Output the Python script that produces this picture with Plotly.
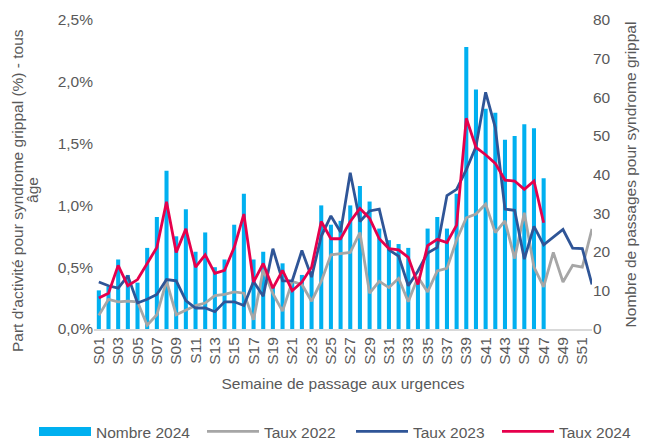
import plotly.graph_objects as go

weeks = [f"S{i:02d}" for i in range(1, 53)]
tick_labels = weeks[::2]

nombre_2024 = [10, 11, 18, 14, 12, 21, 29, 41, 24, 31, 20, 25, 16, 18, 27, 35, 18, 20, 11, 17,
               12, 14, 15, 32, 27, 28, 32, 37, 33, 26, 23, 22, 21, 13, 26, 29, 26, 35, 73, 62,
               57, 56, 49, 50, 53, 52, 39]

taux_2022 = [0.11, 0.24, 0.22, 0.225, 0.22, 0.03, 0.115, 0.39, 0.115, 0.155, 0.19, 0.21, 0.27,
             0.28, 0.30, 0.29, 0.075, 0.48, 0.285, 0.145, 0.385, 0.36, 0.225, 0.385, 0.60, 0.61,
             0.62, 0.78, 0.29, 0.385, 0.335, 0.41, 0.22, 0.42, 0.30, 0.47, 0.49, 0.72, 0.90,
             0.93, 1.01, 0.78, 0.875, 0.57, 0.94, 0.50, 0.34, 0.62, 0.38, 0.515, 0.50, 0.81]

taux_2023 = [0.38, 0.35, 0.33, 0.43, 0.21, 0.24, 0.28, 0.40, 0.39, 0.23, 0.17, 0.17, 0.14, 0.22,
             0.22, 0.19, 0.385, 0.265, 0.65, 0.39, 0.39, 0.635, 0.42, 0.75, 0.915, 0.785, 1.265,
             0.87, 0.955, 0.97, 0.64, 0.59, 0.35, 0.47, 0.615, 0.66, 1.08, 1.13, 1.29, 1.475,
             1.915, 1.63, 0.97, 0.96, 0.565, 0.83, 0.68, 0.74, 0.805, 0.655, 0.65, 0.36]

taux_2024 = [0.25, 0.29, 0.515, 0.35, 0.40, 0.53, 0.66, 1.03, 0.62, 0.81, 0.50, 0.60, 0.45,
             0.475, 0.66, 0.93, 0.38, 0.53, 0.33, 0.475, 0.31, 0.38, 0.50, 0.87, 0.73, 0.73,
             0.87, 0.975, 0.895, 0.73, 0.65, 0.64, 0.58, 0.36, 0.675, 0.725, 0.70, 0.84, 1.705,
             1.47, 1.41, 1.34, 1.205, 1.197, 1.13, 1.197, 0.86]

FONT = "Liberation Sans, Arial, sans-serif"
GREY_TXT = "#595959"
FS = 15.5
BAR_COLOR = "#00B0F0"

fig = go.Figure()
fig.add_trace(go.Bar(x=weeks[:len(nombre_2024)], y=nombre_2024, name="Nombre 2024",
                     marker=dict(color=BAR_COLOR, line=dict(width=0)), yaxis="y",
                     showlegend=False, legendgroup="n24"))
# legend proxy giving the wide rectangle key of the bar series
fig.add_trace(go.Scatter(x=[weeks[0]], y=[None], name="Nombre 2024", mode="lines",
                         line=dict(color=BAR_COLOR, width=9), yaxis="y", legendgroup="n24",
                         hoverinfo="skip", legend="legend"))
fig.add_trace(go.Scatter(x=weeks, y=[v / 100 for v in taux_2022], name="Taux 2022", mode="lines",
                         line=dict(color="#A6A6A6", width=2.8), yaxis="y2", legend="legend2"))
fig.add_trace(go.Scatter(x=weeks, y=[v / 100 for v in taux_2023], name="Taux 2023", mode="lines",
                         line=dict(color="#2F5597", width=2.8), yaxis="y2", legend="legend3"))
fig.add_trace(go.Scatter(x=weeks[:len(taux_2024)], y=[v / 100 for v in taux_2024], name="Taux 2024",
                         mode="lines", line=dict(color="#E6004C", width=2.8), yaxis="y2",
                         legend="legend4"))


def leg(xpx):
    return dict(orientation="h", xref="paper", yref="paper", x=(xpx - 94) / 498, xanchor="left",
                y=-0.333, yanchor="middle", itemwidth=52, bgcolor="rgba(0,0,0,0)",
                font=dict(size=FS, color=GREY_TXT))


fig.update_layout(
    width=646, height=441,
    margin=dict(l=94, r=54, t=20, b=112, autoexpand=False),
    paper_bgcolor="white", plot_bgcolor="white",
    separators=", ",
    font=dict(family=FONT, size=FS, color=GREY_TXT),
    bargap=0.58,
    showlegend=True,
    legend=leg(34), legend2=leg(202), legend3=leg(351), legend4=leg(497),
    xaxis=dict(type="category", categoryorder="array", categoryarray=weeks,
               tickmode="array", tickvals=tick_labels, ticktext=tick_labels, tickangle=-90,
               showgrid=False, showline=True, linecolor="#D9D9D9", linewidth=2, ticks="",
               tickfont=dict(size=FS, color=GREY_TXT),
               title=dict(text="Semaine de passage aux urgences", standoff=14,
                          font=dict(size=FS, color=GREY_TXT))),
    yaxis=dict(side="right", range=[0, 80], dtick=10, showgrid=False, zeroline=False,
               showline=False, ticks="", tickfont=dict(size=FS, color=GREY_TXT),
               title=dict(text="Nombre de passages pour syndrome grippal", standoff=15,
                          font=dict(size=FS, color=GREY_TXT))),
    yaxis2=dict(side="left", overlaying="y", range=[0, 0.025], dtick=0.005, tickformat=".1%",
                showgrid=False, zeroline=False, showline=False, ticks="",
                tickfont=dict(size=FS, color=GREY_TXT)),
    annotations=[
        dict(text="Part d'activité pour syndrome grippal (%) - tous",
             xref="paper", yref="paper", x=-0.1546, y=0.4466, xanchor="center",
             yanchor="middle", textangle=-90, showarrow=False,
             font=dict(size=FS, color=GREY_TXT)),
        dict(text="âge",
             xref="paper", yref="paper", x=-0.1225, y=0.45, xanchor="center",
             yanchor="middle", textangle=-90, showarrow=False,
             font=dict(size=FS, color=GREY_TXT)),
    ],
)

fig.write_html("out.html", config={"displayModeBar": False},
               post_script="document.body.style.margin='0';")
